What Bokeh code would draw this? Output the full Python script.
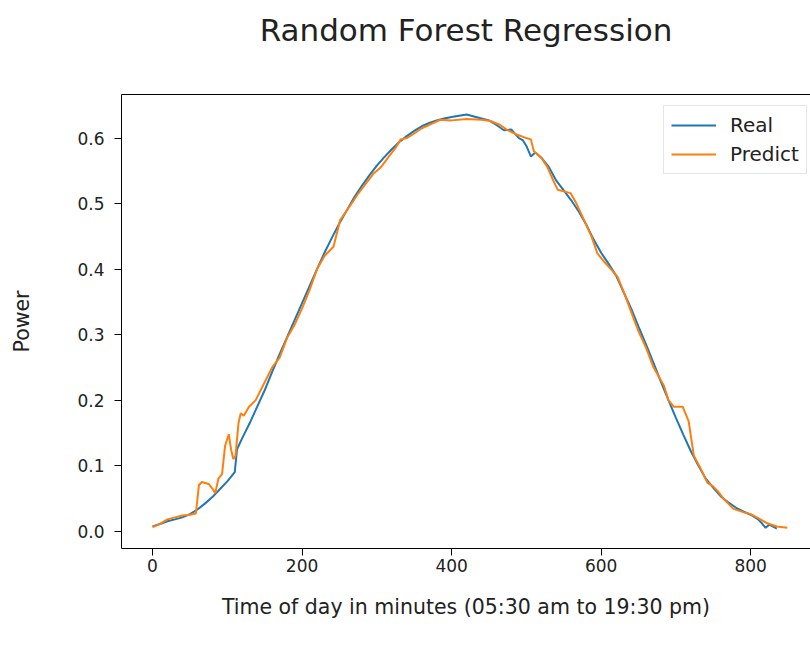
from bokeh.plotting import figure
from bokeh.models import (Range1d, LinearAxis, FixedTicker, Legend, LegendItem,
                          PrintfTickFormatter)
from bokeh.embed import file_html
from bokeh.resources import INLINE

# ---- data ----
real_x = [0, 10, 20, 30, 40, 50, 60, 70, 80, 90, 100, 110, 113, 120, 130, 140, 150, 160,
          170, 180, 190, 200, 210, 220, 230, 240, 250, 260, 270, 280, 290, 300, 310, 320,
          330, 340, 350, 360, 370, 380, 390, 400, 410, 420, 430, 440, 450, 460, 470, 480,
          490, 495, 500, 506, 512, 520, 530, 540, 550, 560, 570, 580, 590, 600, 610, 620, 630,
          640, 650, 660, 670, 680, 690, 700, 710, 720, 730, 740, 750, 760, 770, 780, 790,
          800, 810, 815, 820, 825, 835]
real_y = [0.007, 0.011, 0.015, 0.018, 0.021, 0.026, 0.033, 0.042, 0.052, 0.064, 0.076, 0.090,
          0.125, 0.142, 0.165, 0.190, 0.215, 0.243, 0.270, 0.296, 0.322, 0.348, 0.374, 0.400,
          0.425, 0.448, 0.470, 0.490, 0.510, 0.527, 0.543, 0.558, 0.571, 0.583, 0.594, 0.603,
          0.611, 0.618, 0.623, 0.627, 0.630, 0.632, 0.634, 0.636, 0.633, 0.630, 0.627, 0.620,
          0.612, 0.613, 0.600, 0.597, 0.588, 0.572, 0.578, 0.570, 0.556, 0.535, 0.520, 0.505,
          0.488, 0.468, 0.445, 0.425, 0.408, 0.390, 0.365, 0.340, 0.312, 0.285, 0.257, 0.228,
          0.200, 0.173, 0.147, 0.122, 0.100, 0.080, 0.066, 0.053, 0.044, 0.036, 0.030, 0.025,
          0.018, 0.012, 0.005, 0.010, 0.004]

pred_x = [0, 10, 20, 30, 40, 50, 58, 62, 66, 75, 80, 84, 88, 93, 97, 102, 105, 108, 111, 115,
          118, 122, 129, 138, 149, 160, 170, 180, 190, 200, 210, 220, 230, 242, 251, 265, 275,
          285, 295, 305, 315, 325, 332, 340, 350, 360, 370, 385, 400, 420, 440, 452, 465, 475,
          488, 500, 506, 510, 520, 528, 536, 542, 559, 567, 577, 587, 595, 605, 613, 622, 632,
          640, 650, 660, 670, 684, 690, 697, 709, 717, 724, 732, 742, 750, 756, 764, 770, 777,
          790, 800, 810, 822, 835, 849]
pred_y = [0.006, 0.011, 0.018, 0.021, 0.024, 0.025, 0.027, 0.070, 0.075, 0.072, 0.065, 0.058,
          0.080, 0.087, 0.130, 0.148, 0.125, 0.110, 0.115, 0.165, 0.180, 0.176, 0.190, 0.200,
          0.225, 0.250, 0.265, 0.295, 0.315, 0.340, 0.368, 0.400, 0.420, 0.434, 0.475, 0.498,
          0.515, 0.530, 0.545, 0.555, 0.570, 0.585, 0.598, 0.600, 0.607, 0.615, 0.620, 0.628,
          0.627, 0.629, 0.628, 0.626, 0.620, 0.612, 0.605, 0.600, 0.598, 0.580, 0.570, 0.556,
          0.535, 0.521, 0.516, 0.500, 0.475, 0.450, 0.424, 0.410, 0.400, 0.388, 0.360, 0.335,
          0.305, 0.280, 0.250, 0.222, 0.200, 0.190, 0.190, 0.168, 0.115, 0.098, 0.074, 0.068,
          0.061, 0.049, 0.042, 0.034, 0.029, 0.026, 0.020, 0.012, 0.007, 0.005]

x_ticks = [0, 200, 400, 600, 800]
y_ticks = [0.0, 0.1, 0.2, 0.3, 0.4, 0.5, 0.6]

FONT = "DejaVu Sans"
BLUE = "#1f77b4"
ORANGE = "#ff7f0e"
TXT = "#222222"

p = figure(frame_width=689, frame_height=454,
           min_border_left=121, min_border_right=0, min_border_top=94, min_border_bottom=98,
           x_range=Range1d(-41.5, 880), y_range=Range1d(-0.0265, 0.6665),
           output_backend="svg", toolbar_location=None)
p.outline_line_color = None
p.xgrid.visible = False
p.ygrid.visible = False
p.background_fill_color = "white"
p.border_fill_color = "white"

r_real = p.line(real_x, real_y, line_color=BLUE, line_width=2)
r_pred = p.line(pred_x, pred_y, line_color=ORANGE, line_width=2)

for ax in (p.xaxis[0], p.yaxis[0]):
    ax.axis_line_color = "black"
    ax.axis_line_width = 1
    ax.major_tick_line_color = "black"
    ax.major_tick_in = 0
    ax.major_tick_out = 7
    ax.minor_tick_line_color = None
    ax.major_label_text_font = FONT
    ax.major_label_text_font_size = "17px"
    ax.major_label_text_color = TXT
    ax.axis_label_text_font = FONT
    ax.axis_label_text_font_size = "20.5px"
    ax.axis_label_text_font_style = "normal"
    ax.axis_label_text_color = TXT

p.xaxis[0].ticker = FixedTicker(ticks=x_ticks)
p.yaxis[0].ticker = FixedTicker(ticks=y_ticks)
p.yaxis[0].formatter = PrintfTickFormatter(format="%.1f")
p.xaxis[0].axis_label = "Time of day in minutes (05:30 am to 19:30 pm)"
p.yaxis[0].axis_label = "Power"
p.xaxis[0].major_label_standoff = 3
p.xaxis[0].axis_label_standoff = 20
p.yaxis[0].major_label_standoff = 10
p.yaxis[0].axis_label_standoff = 40

# top spine, whose axis label serves as the chart title
top = LinearAxis(ticker=FixedTicker(ticks=[]), axis_line_color="black", axis_line_width=1,
                 major_tick_out=0, major_tick_in=0, major_label_standoff=0,
                 minor_tick_line_color=None, major_label_text_font_size="0px",
                 axis_label="Random Forest Regression", axis_label_standoff=47,
                 axis_label_text_font=FONT, axis_label_text_font_size="31px",
                 axis_label_text_font_style="normal", axis_label_text_color=TXT)
p.add_layout(top, "above")

legend = Legend(items=[LegendItem(label="Real", renderers=[r_real]),
                       LegendItem(label="Predict", renderers=[r_pred])],
                location=(542, 374), padding=7, spacing=5,
                glyph_width=45, glyph_height=24, label_height=24, label_standoff=14,
                label_text_font=FONT, label_text_font_size="20px", label_text_color=TXT,
                border_line_color="#cccccc", border_line_width=1,
                background_fill_color="white", background_fill_alpha=0.8)
p.add_layout(legend, "center")

open("out.html", "w").write(file_html(p, INLINE))
